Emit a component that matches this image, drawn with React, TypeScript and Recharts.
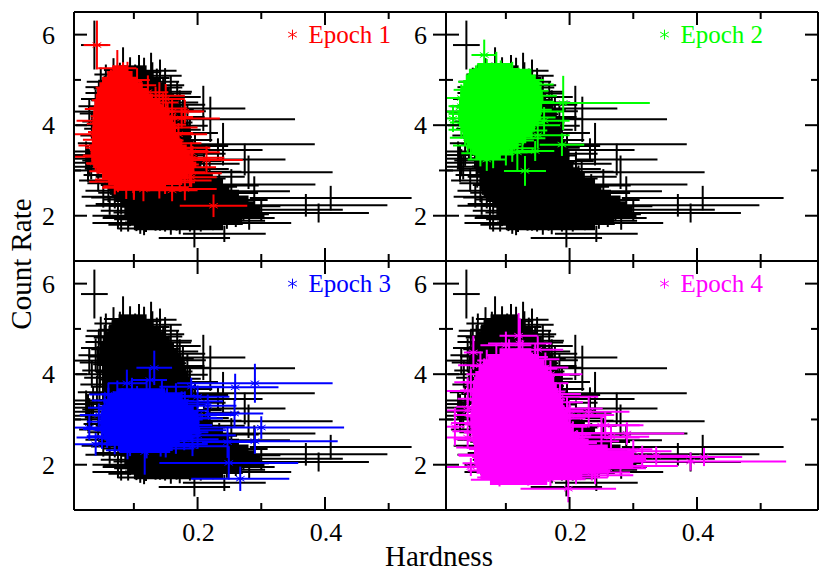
import { ScatterChart, Scatter, XAxis, YAxis, ErrorBar, ReferenceDot } from "recharts";

// each point: [hardness, count rate, hardness error, rate error]
type Row = number[];

const allEpochs: Row[] = [
  [.038,5.77,.021,.54],[.209,4.37,.066,.5],[.22,4.13,.133,.5],[.24,3.58,.144,.47],[.232,3.45,.07,.26],[.274,3.24,.064,.35],
  [.28,2.96,.132,.37],[.289,2.54,.056,.33],[.253,2.69,.132,.34],[.409,2.39,.127,.27],[.39,2.06,.079,.21],[.281,1.84,.066,.15],
  [.242,1.6,.065,.18],[.195,1.51,.056,.21],[.37,2.23,.128,.25],[.3,2.13,.128,.25],[.26,1.95,.061,.2],
  [.083,5.22,.03,.5],[.108,5.17,.035,.38],[.127,5.2,.04,.4],[.068,5.12,.03,.36],[.094,5.08,.033,.42],[.116,5.04,.04,.45],[.141,5.09,.034,.36],
  [.056,4.96,.03,.38],[.078,4.98,.034,.4],[.102,4.93,.037,.41],[.129,4.96,.042,.43],[.149,4.88,.03,.38],[.048,4.84,.024,.43],[.067,4.81,.03,.36],
  [.089,4.85,.034,.4],[.113,4.8,.04,.38],[.136,4.83,.04,.42],[.158,4.74,.033,.36],[.054,4.71,.03,.38],[.076,4.68,.033,.41],[.099,4.72,.036,.38],
  [.122,4.66,.04,.4],[.146,4.7,.044,.37],[.168,4.62,.037,.35],[.045,4.58,.028,.4],[.063,4.55,.03,.37],[.086,4.59,.034,.4],[.108,4.53,.038,.38],
  [.131,4.56,.042,.36],[.155,4.5,.046,.35],[.172,4.45,.04,.32],[.04,4.42,.027,.37],[.058,4.39,.03,.4],[.08,4.44,.034,.37],[.103,4.37,.038,.36],
  [.125,4.41,.04,.38],[.148,4.34,.046,.36],[.177,4.31,.036,.3],[.043,4.26,.028,.36],[.066,4.22,.03,.38],[.091,4.27,.035,.37],[.114,4.2,.04,.35],
  [.138,4.24,.044,.36],[.163,4.18,.048,.34],[.184,4.14,.035,.32],[.047,4.08,.028,.37],[.072,4.05,.032,.36],[.097,4.1,.036,.34],[.121,4.02,.04,.37],
  [.146,4.06,.046,.33],[.171,3.99,.045,.34],[.052,3.92,.03,.36],[.079,3.88,.033,.37],[.105,3.93,.037,.35],[.131,3.85,.042,.34],[.157,3.9,.048,.32],
  [.188,3.83,.044,.3],[.046,3.77,.03,.34],[.069,3.72,.032,.33],[.094,3.76,.036,.35],[.119,3.69,.04,.32],[.145,3.74,.046,.31],[.173,3.67,.05,.3],
  [.042,3.6,.03,.36],[.064,3.56,.034,.32],[.089,3.59,.036,.33],[.113,3.53,.04,.31],[.139,3.57,.046,.3],[.166,3.5,.05,.31],[.196,3.54,.052,.28],
  [.036,3.42,.032,.32],[.059,3.38,.035,.3],[.084,3.43,.038,.31],[.108,3.36,.042,.32],[.134,3.4,.047,.29],[.161,3.33,.05,.3],[.19,3.37,.054,.27],
  [.028,3.26,.028,.3],[.054,3.22,.035,.31],[.081,3.27,.04,.3],[.105,3.19,.043,.29],[.129,3.24,.048,.3],[.156,3.17,.052,.28],[.183,3.21,.055,.29],[.21,3.15,.056,.27],
  [.033,3.08,.03,.28],[.06,3.04,.037,.3],[.087,3.09,.04,.28],[.112,3.02,.046,.29],[.138,3.06,.05,.27],[.164,2.99,.053,.28],[.192,3.03,.057,.26],[.219,2.97,.05,.26],
  [.055,2.9,.034,.28],[.08,2.86,.04,.27],[.107,2.91,.045,.28],[.133,2.84,.05,.27],[.159,2.88,.054,.26],[.186,2.82,.058,.27],[.214,2.86,.06,.25],
  [.064,2.72,.037,.26],[.09,2.68,.042,.27],[.118,2.73,.046,.25],[.146,2.66,.05,.26],[.173,2.7,.056,.25],[.202,2.64,.06,.24],[.234,2.67,.062,.25],
  [.06,2.55,.036,.25],[.086,2.51,.042,.24],[.113,2.56,.048,.25],[.141,2.49,.052,.24],[.169,2.53,.058,.23],[.197,2.47,.062,.25],[.23,2.5,.065,.23],
  [.07,2.4,.037,.24],[.097,2.36,.044,.22],[.125,2.41,.05,.24],[.154,2.34,.056,.23],[.183,2.38,.06,.22],[.213,2.32,.066,.23],[.25,2.35,.06,.22],
  [.08,2.26,.04,.22],[.108,2.22,.046,.23],[.137,2.27,.052,.21],[.166,2.2,.058,.22],[.196,2.24,.064,.21],[.228,2.18,.07,.2],[.265,2.21,.065,.2],
  [.088,2.11,.04,.21],[.116,2.07,.048,.22],[.146,2.12,.054,.2],[.176,2.05,.06,.21],[.207,2.09,.066,.2],[.24,2.03,.072,.19],[.272,2.06,.056,.18],
  [.094,1.97,.042,.2],[.122,1.93,.05,.19],[.152,1.98,.056,.21],[.182,1.91,.062,.19],[.213,1.95,.068,.18],[.246,1.89,.06,.18],
  [.08,1.84,.045,.19],[.11,1.8,.05,.2],[.141,1.85,.055,.18],[.172,1.78,.062,.19],[.205,1.82,.066,.17],[.116,1.72,.04,.15],[.158,1.74,.05,.16],
  [.075,2.0,.04,.3],[.091,1.95,.04,.3],[.104,1.98,.045,.32],[.119,1.92,.05,.28],[.134,2.0,.05,.33],[.149,1.93,.05,.28],[.167,1.97,.055,.3],[.188,1.95,.06,.3],[.224,1.98,.07,.3],
  [.025,3.34,.025,.3],[.03,3.17,.03,.3],[.028,3.0,.028,.25],[.044,2.78,.03,.25],[.052,2.42,.034,.24],[.062,2.22,.038,.2],[.034,4.0,.025,.3],[.03,4.3,.025,.3],
];

const epoch1: Row[] = [
  [.042,5.77,.021,.54],[.074,5.26,.03,.4],[.18,4.3,.03,.26],[.225,2.22,.053,.25],[.18,2.59,.05,.25],[.214,3.23,.057,.3],[.188,2.94,.05,.3],
  [.175,4.15,.06,.22],[.19,3.4,.045,.22],[.05,3.55,.037,.3],[.04,3.3,.035,.3],[.05,4.36,.027,.35],[.055,3.16,.03,.3],[.1,2.65,.048,.3],[.19,2.85,.04,.22],
  [.083,4.97,.03,.42],[.064,4.83,.024,.4],[.105,4.88,.03,.38],[.078,4.7,.03,.41],[.097,4.66,.034,.4],[.122,4.73,.032,.37],[.062,4.55,.028,.38],[.084,4.52,.03,.39],
  [.109,4.57,.034,.38],[.134,4.5,.036,.35],[.15,4.58,.03,.33],[.056,4.38,.026,.37],[.075,4.35,.03,.38],[.098,4.41,.033,.36],[.121,4.33,.036,.37],[.146,4.37,.038,.33],
  [.06,4.2,.028,.36],[.083,4.16,.032,.37],[.106,4.22,.035,.35],[.13,4.14,.038,.34],[.153,4.18,.04,.32],[.052,4.03,.026,.35],[.072,4.0,.03,.37],[.095,4.05,.034,.34],
  [.118,3.97,.037,.35],[.142,4.01,.04,.33],[.164,3.95,.036,.3],[.056,3.85,.028,.34],[.08,3.82,.032,.35],[.104,3.87,.035,.33],[.127,3.79,.038,.34],[.151,3.83,.042,.31],
  [.048,3.68,.028,.34],[.068,3.65,.03,.33],[.091,3.7,.034,.34],[.114,3.62,.037,.32],[.138,3.66,.04,.33],[.162,3.6,.044,.3],[.054,3.5,.03,.33],[.077,3.47,.033,.32],
  [.1,3.52,.036,.33],[.124,3.44,.04,.31],[.148,3.48,.042,.3],[.172,3.43,.045,.28],[.05,3.33,.03,.31],[.072,3.3,.034,.32],[.095,3.35,.037,.3],[.119,3.27,.04,.31],
  [.143,3.31,.044,.29],[.167,3.25,.048,.29],[.192,3.28,.05,.26],[.058,3.15,.032,.3],[.082,3.12,.036,.31],[.106,3.17,.04,.29],[.13,3.09,.043,.3],[.155,3.13,.047,.28],
  [.179,3.07,.05,.27],[.064,2.98,.034,.29],[.089,2.94,.038,.28],[.113,2.99,.04,.3],[.138,2.91,.045,.28],[.162,2.96,.05,.26],[.075,2.8,.036,.28],[.099,2.77,.04,.27],
  [.124,2.82,.043,.28],[.149,2.74,.047,.26],[.172,2.78,.05,.25],[.088,2.62,.038,.25],[.115,2.58,.042,.26],[.14,2.63,.046,.25],[.16,2.56,.04,.24],[.1,2.7,.04,.3],
  [.07,4.12,.03,.4],[.11,4.45,.034,.36],[.09,3.58,.034,.33],[.13,3.72,.04,.32],[.085,3.22,.036,.3],[.125,3.38,.04,.3],[.07,3.9,.03,.34],[.115,4.08,.036,.34],
  [.04,4.1,.03,.3],[.038,3.8,.033,.3],[.14,4.65,.04,.3],[.16,4.3,.045,.3],[.17,3.8,.045,.25],[.17,3.5,.05,.25],[.09,5.0,.035,.4],[.07,2.75,.04,.28],
];

const epoch2: Row[] = [
  [.017,4.15,.011,.3],[.066,5.55,.02,.34],[.19,4.49,.136,.6],[.188,3.57,.035,.25],[.13,2.99,.033,.33],[.146,3.43,.03,.22],[.118,3.4,.03,.43],
  [.11,5,.05,.4],[.085,5.24,.035,.38],[.07,3.24,.03,.25],[.15,3.78,.05,.3],[.16,4.1,.04,.3],
  [.07,5.12,.03,.34],[.092,5.05,.034,.38],[.053,4.96,.028,.36],[.074,4.92,.03,.38],[.098,4.88,.034,.37],[.12,4.94,.036,.33],[.042,4.78,.024,.36],[.062,4.74,.028,.38],
  [.085,4.79,.032,.38],[.107,4.71,.035,.36],[.129,4.76,.038,.34],[.036,4.6,.022,.35],[.055,4.56,.028,.37],[.076,4.61,.03,.37],[.098,4.53,.034,.36],[.12,4.58,.036,.35],
  [.14,4.52,.036,.32],[.03,4.42,.02,.34],[.048,4.39,.026,.36],[.069,4.44,.03,.36],[.09,4.36,.033,.35],[.112,4.41,.036,.35],[.134,4.34,.038,.33],[.032,4.25,.022,.34],
  [.052,4.21,.027,.35],[.073,4.26,.03,.36],[.095,4.18,.034,.34],[.117,4.23,.036,.34],[.138,4.17,.04,.32],[.036,4.06,.024,.33],[.056,4.03,.028,.34],[.078,4.08,.032,.35],
  [.1,4.0,.034,.33],[.122,4.05,.037,.33],[.036,3.9,.026,.34],[.06,3.86,.03,.33],[.082,3.91,.032,.34],[.105,3.83,.035,.32],[.127,3.88,.038,.31],[.04,3.72,.028,.32],
  [.064,3.69,.03,.33],[.086,3.74,.033,.33],[.108,3.66,.036,.3],[.126,3.71,.036,.3],[.045,3.55,.028,.31],[.068,3.52,.03,.32],[.09,3.57,.034,.31],[.11,3.49,.034,.3],
  [.06,3.38,.03,.29],[.08,3.35,.032,.3],[.1,3.4,.034,.29],[.078,3.62,.034,.34],[.058,4.14,.03,.38],[.088,4.48,.034,.37],[.107,4.28,.036,.35],[.068,4.82,.03,.38],
  [.135,4.9,.04,.3],[.145,4.65,.035,.3],[.15,4.3,.04,.3],[.03,4.6,.03,.3],[.028,4.3,.028,.3],[.03,4.0,.026,.3],[.14,4.0,.045,.28],
];

const epoch3: Row[] = [
  [.132,4.14,.028,.38],[.29,3.8,.122,.43],[.259,3.71,.068,.3],[.258,3.13,.045,.3],[.249,2.04,.109,.37],[.267,1.69,.077,.27],[.247,2.5,.04,.35],[.089,3.8,.03,.3],
  [.125,3.87,.027,.28],[.117,2.28,.04,.5],[.3,2.82,.13,.25],[.29,2.52,.13,.28],[.04,2.45,.035,.25],[.2,3.5,.05,.25],[.19,3.02,.05,.27],[.03,2.82,.024,.28],
  [.19,3.72,.05,.2],[.216,3.3,.045,.25],[.2,2.65,.06,.3],
  [.074,3.56,.026,.3],[.097,3.6,.03,.32],[.12,3.55,.034,.33],[.144,3.58,.036,.3],[.166,3.52,.04,.28],[.06,3.42,.026,.28],[.082,3.39,.03,.3],[.105,3.44,.034,.3],
  [.128,3.37,.037,.3],[.152,3.41,.042,.28],[.175,3.35,.045,.27],[.054,3.26,.026,.29],[.076,3.23,.03,.29],[.099,3.28,.034,.3],[.122,3.21,.037,.28],[.146,3.25,.042,.29],
  [.17,3.19,.046,.27],[.062,3.1,.028,.27],[.085,3.07,.032,.29],[.108,3.12,.036,.28],[.132,3.05,.04,.28],[.156,3.09,.045,.27],[.18,3.04,.05,.26],[.056,2.95,.03,.27],
  [.078,2.92,.034,.28],[.101,2.97,.036,.27],[.125,2.9,.04,.27],[.149,2.94,.045,.26],[.173,2.88,.05,.26],[.05,2.79,.03,.27],[.072,2.76,.034,.26],[.095,2.81,.037,.27],
  [.119,2.74,.04,.26],[.143,2.78,.046,.25],[.167,2.72,.05,.25],[.19,2.76,.055,.24],[.058,2.63,.032,.26],[.082,2.6,.035,.25],[.106,2.65,.04,.26],[.13,2.58,.044,.25],
  [.155,2.62,.048,.25],[.179,2.56,.054,.24],[.07,2.47,.034,.24],[.094,2.44,.038,.25],[.118,2.49,.042,.24],[.142,2.42,.046,.24],[.166,2.46,.05,.22],[.192,2.41,.056,.22],
  [.09,2.32,.034,.2],[.12,2.34,.04,.2],[.15,2.36,.045,.2],[.135,2.7,.045,.27],[.085,3.3,.034,.3],[.16,3.0,.048,.26],[.11,2.88,.038,.27],[.14,3.3,.04,.29],
  [.06,3.55,.03,.25],[.18,3.4,.06,.22],[.2,3.1,.06,.25],[.045,3.1,.03,.25],[.05,2.6,.04,.25],
];

const epoch4: Row[] = [
  [.411,2.17,.06,.2],[.02,2.84,.015,.42],[.049,4.48,.015,.37],[.198,1.47,.075,.3],[.39,2.07,.15,.2],[.336,2.2,.05,.2],[.314,2.17,.05,.25],[.256,2.87,.06,.3],
  [.23,3.17,.064,.35],[.122,4.68,.05,.55],[.1,4.64,.04,.3],[.15,4.54,.04,.3],[.04,3.63,.034,.3],[.045,3.82,.026,.3],[.06,2.22,.035,.2],[.09,1.67,.045,.15],
  [.29,2.69,.09,.25],[.25,2.87,.06,.25],[.28,1.97,.09,.2],[.26,1.92,.06,.2],[.24,1.77,.06,.2],[.3,2.3,.06,.25],[.25,2.34,.08,.27],[.22,2.6,.09,.3],[.265,2.62,.06,.25],
  [.105,4.42,.035,.35],[.126,4.38,.04,.38],[.085,4.3,.03,.38],[.146,4.33,.038,.35],[.07,4.18,.026,.36],[.094,4.14,.032,.4],[.118,4.2,.036,.37],[.141,4.12,.04,.36],
  [.162,4.15,.036,.33],[.066,4.0,.028,.35],[.088,3.96,.032,.38],[.111,4.02,.036,.36],[.135,3.94,.04,.36],[.158,3.98,.042,.33],[.06,3.82,.03,.34],[.082,3.78,.032,.36],
  [.106,3.84,.036,.36],[.13,3.76,.04,.35],[.154,3.8,.044,.33],[.056,3.64,.028,.34],[.078,3.6,.032,.35],[.101,3.66,.036,.34],[.125,3.58,.04,.34],[.149,3.62,.044,.33],
  [.172,3.56,.046,.3],[.054,3.46,.03,.32],[.076,3.43,.033,.34],[.099,3.48,.037,.33],[.123,3.4,.04,.33],[.147,3.44,.046,.31],[.171,3.38,.05,.29],[.052,3.28,.03,.33],
  [.074,3.25,.034,.32],[.097,3.3,.038,.32],[.121,3.22,.042,.32],[.146,3.26,.047,.3],[.17,3.2,.052,.29],[.196,3.24,.056,.26],[.05,3.1,.032,.31],[.073,3.07,.036,.31],
  [.096,3.12,.04,.3],[.12,3.04,.044,.31],[.145,3.08,.05,.29],[.17,3.02,.055,.28],[.197,3.06,.06,.27],[.048,2.92,.034,.3],[.072,2.89,.037,.3],[.096,2.94,.042,.29],
  [.121,2.86,.046,.3],[.146,2.9,.052,.28],[.172,2.84,.056,.28],[.2,2.88,.062,.27],[.05,2.74,.034,.29],[.074,2.71,.04,.28],[.099,2.76,.044,.28],[.124,2.68,.048,.29],
  [.15,2.72,.054,.27],[.176,2.66,.058,.27],[.205,2.7,.065,.26],[.054,2.56,.036,.27],[.079,2.53,.04,.27],[.104,2.58,.046,.26],[.13,2.5,.05,.27],[.156,2.54,.056,.25],
  [.183,2.48,.06,.25],[.212,2.52,.066,.24],[.06,2.38,.038,.25],[.086,2.35,.044,.25],[.112,2.4,.048,.24],[.139,2.32,.052,.25],[.166,2.36,.058,.23],[.194,2.3,.064,.24],
  [.224,2.34,.07,.22],[.066,2.2,.04,.23],[.093,2.17,.046,.23],[.12,2.22,.05,.22],[.148,2.14,.056,.23],[.176,2.18,.062,.22],[.206,2.12,.068,.22],[.238,2.16,.074,.2],
  [.072,2.03,.04,.22],[.1,2.0,.048,.21],[.128,2.05,.054,.21],[.157,1.97,.06,.21],[.186,2.01,.066,.2],[.218,1.95,.072,.19],[.08,1.87,.04,.2],[.108,1.84,.048,.2],
  [.137,1.89,.056,.19],[.167,1.82,.062,.2],[.198,1.86,.066,.18],[.235,1.83,.06,.18],[.1,1.72,.045,.16],[.135,1.7,.05,.16],[.17,1.68,.055,.15],[.21,1.72,.05,.15],
  [.06,4.2,.035,.3],[.17,4.0,.05,.3],[.185,3.5,.06,.3],[.2,3.1,.07,.3],[.04,3.2,.035,.3],[.04,2.6,.035,.25],[.045,1.95,.04,.2],[.12,4.85,.03,.5],
];

// the crowded middle of each cloud, where single points can't be told apart: [centre, rate, half width]
const allEpochsCore: Row[] = [
  [.098,5.25,.022],[.098,5.125,.033],[.1,5,.04],[.102,4.875,.047],[.103,4.75,.052],[.105,4.625,.058],[.108,4.5,.062],[.11,4.375,.065],
  [.113,4.25,.067],[.116,4.125,.066],[.118,4,.068],[.119,3.875,.069],[.12,3.75,.07],[.122,3.625,.072],[.124,3.5,.074],[.125,3.375,.075],
  [.125,3.25,.075],[.128,3.125,.078],[.135,3,.08],[.142,2.875,.082],[.15,2.75,.09],[.155,2.625,.095],[.165,2.5,.1],[.175,2.375,.105],
  [.185,2.25,.105],[.192,2.125,.107],[.195,2,.11],[.18,1.875,.09],[.17,1.75,.07],
];
const epoch1Core: Row[] = [
  [.078,5.25,.012],[.078,5.125,.02],[.078,5,.028],[.08,4.875,.034],[.082,4.75,.04],[.085,4.625,.045],[.089,4.5,.051],[.092,4.375,.055],
  [.096,4.25,.06],[.098,4.125,.062],[.1,4,.065],[.1,3.875,.066],[.102,3.75,.068],[.105,3.625,.071],[.107,3.5,.076],[.11,3.375,.078],
  [.113,3.25,.08],[.117,3.125,.081],[.118,3,.077],[.118,2.875,.068],[.118,2.75,.058],[.11,2.625,.04],
];
const epoch2Core: Row[] = [
  [.082,5.3,.027],[.091,5.175,.049],[.092,5.05,.055],[.093,4.925,.06],[.093,4.8,.063],[.094,4.675,.064],[.094,4.55,.065],[.092,4.425,.065],
  [.091,4.3,.065],[.09,4.175,.065],[.089,4.05,.061],[.088,3.925,.058],[.087,3.8,.055],[.084,3.675,.048],[.08,3.55,.04],[.076,3.425,.03],[.072,3.3,.02],
];
const epoch3Core: Row[] = [
  [.112,3.62,.037],[.118,3.5,.058],[.12,3.375,.065],[.122,3.25,.072],[.124,3.125,.076],[.125,3,.078],[.125,2.875,.078],[.126,2.75,.078],
  [.121,2.625,.069],[.115,2.5,.057],[.118,2.375,.043],
];
const epoch4Core: Row[] = [
  [.115,4.5,.025],[.112,4.375,.04],[.112,4.25,.048],[.112,4.125,.055],[.112,4,.06],[.113,3.875,.063],[.114,3.75,.066],[.115,3.625,.068],
  [.116,3.5,.07],[.118,3.375,.072],[.119,3.25,.073],[.12,3.125,.075],[.12,3,.076],[.122,2.875,.078],[.126,2.75,.08],[.132,2.625,.084],
  [.14,2.5,.09],[.155,2.375,.105],[.175,2.25,.125],[.185,2.125,.135],[.176,2,.124],[.157,1.875,.103],[.14,1.75,.08],[.12,1.625,.045],
];

const xMin = 0.006;
const xMax = 0.59;
const xTicks = [0.1, 0.2, 0.3, 0.4, 0.5];
const yTicks = [2, 3, 4, 5, 6];
const xLabels = [0.2, 0.4];
const yLabels = [2, 4, 6];
const serif = "'Liberation Serif', 'Times New Roman', serif";
const frame = { stroke: "#000", strokeWidth: 2 };

// bars stop at the left axis, the plotting package cut them there too
const toPoints = (rows: Row[]) =>
  rows.map(([x, y, xe, ye = 0]) => ({ x, y, xe: [Math.min(xe, x - xMin), xe], ye }));

// six armed star like the one the plotting package draws
function Star({ cx, cy, color, r = 5 }: any) {
  const dx = r * 0.866;
  const dy = r * 0.5;
  return (
    <g stroke={color} strokeWidth={1} fill="none">
      <line x1={cx} y1={cy - r} x2={cx} y2={cy + r} />
      <line x1={cx - dx} y1={cy - dy} x2={cx + dx} y2={cy + dy} />
      <line x1={cx - dx} y1={cy + dy} x2={cx + dx} y2={cy - dy} />
    </g>
  );
}

const xTick = (dir: number, labelled: boolean) => (p: any) => {
  const v = Number(p.payload.value);
  const major = xLabels.some((l) => Math.abs(l - v) < 1e-6);
  return (
    <g>
      <line x1={p.x} x2={p.x} y1={p.y} y2={p.y + dir * (major ? 13 : 7)} stroke="#000" strokeWidth={2} />
      {labelled && major && (
        <text x={p.x + 1} y={p.y + 31} textAnchor="middle" fontSize={26} fontFamily={serif} fill="#000">
          {v.toFixed(1)}
        </text>
      )}
    </g>
  );
};

const yTick = (dir: number, labelled: boolean) => (p: any) => {
  const v = Number(p.payload.value);
  const major = yLabels.includes(v);
  return (
    <g>
      <line x1={p.x} x2={p.x + dir * (major ? 13 : 7)} y1={p.y} y2={p.y} stroke="#000" strokeWidth={2} />
      {labelled && major && (
        <text x={p.x - 19} y={p.y + 9} textAnchor="end" fontSize={26} fontFamily={serif} fill="#000">
          {v}
        </text>
      )}
    </g>
  );
};

function PanelAxes({ showX, bare }: any) {
  const common = { type: "number" as const, allowDataOverflow: true, interval: 0, tickSize: 0, tickMargin: 0, tickLine: false };
  const line = bare ? false : frame;
  return (
    <>
      <XAxis {...common} xAxisId="b" dataKey="x" orientation="bottom" domain={[xMin, xMax]} ticks={xTicks} height={1}
        axisLine={line} tick={bare ? false : xTick(-1, showX)} />
      <XAxis {...common} xAxisId="t" dataKey="x" orientation="top" domain={[xMin, xMax]} ticks={xTicks} height={1}
        axisLine={line} tick={bare ? false : xTick(1, false)} />
      <YAxis {...common} yAxisId="l" dataKey="y" orientation="left" domain={[1, 6.5]} ticks={yTicks} width={1}
        axisLine={line} tick={bare ? false : yTick(1, true)} />
      <YAxis {...common} yAxisId="r" dataKey="y" orientation="right" domain={[1, 6.5]} ticks={yTicks} width={1}
        axisLine={line} tick={bare ? false : yTick(-1, false)} />
    </>
  );
}

// one layer of a panel: the solid middle, then the points with their error bars
function Cloud({ rows, core, color, stars }: any) {
  return (
    <>
      <Scatter data={toPoints(core)} xAxisId="b" yAxisId="l" isAnimationActive={false} shape={() => <g />}>
        <ErrorBar direction="x" dataKey="xe" width={0} stroke={color} strokeWidth={6.5} isAnimationActive={false} />
      </Scatter>
      <Scatter data={toPoints(rows)} xAxisId="b" yAxisId="l" isAnimationActive={false}
        shape={(s: any) => (stars ? <Star cx={s.cx} cy={s.cy} color={color} /> : <g />)}>
        <ErrorBar direction="x" dataKey="xe" width={0} stroke={color} strokeWidth={2} isAnimationActive={false} />
        <ErrorBar direction="y" dataKey="ye" width={0} stroke={color} strokeWidth={2} isAnimationActive={false} />
      </Scatter>
    </>
  );
}

function Panel({ rows, core, color, name, left, top, showX }: any) {
  const margin = { left: left - 1, top: top - 1, right: 830 - left - 372 - 1, bottom: 576 - top - 249 - 1 };
  return (
    <>
      <div style={{ position: "absolute", left: 0, top: 0 }}>
        <ScatterChart width={830} height={576} margin={margin}>
          <PanelAxes bare />
          <Cloud rows={allEpochs} core={allEpochsCore} color="#000000" stars={false} />
        </ScatterChart>
      </div>
      <div style={{ position: "absolute", left: 0, top: 0 }}>
        <ScatterChart width={830} height={576} margin={margin}>
          <PanelAxes showX={showX} />
          <Cloud rows={rows} core={core} color={color} stars />
          <ReferenceDot xAxisId="b" yAxisId="l" x={0.349} y={6} ifOverflow="visible"
            shape={(s: any) => (
              <g>
                <Star cx={s.cx} cy={s.cy} color={color} />
                <text x={s.cx + 16} y={s.cy + 8} fontSize={25} fontFamily={serif} fill={color}>
                  {name}
                </text>
              </g>
            )}
          />
        </ScatterChart>
      </div>
    </>
  );
}

export default function App() {
  return (
    <div style={{ position: "absolute", left: 0, top: 0, width: 830, height: 576, background: "#fff", overflow: "hidden" }}>
      <Panel rows={epoch1} core={epoch1Core} color="#ff0000" name="Epoch 1" left={74} top={12} showX={false} />
      <Panel rows={epoch2} core={epoch2Core} color="#00ff00" name="Epoch 2" left={446} top={12} showX={false} />
      <Panel rows={epoch3} core={epoch3Core} color="#0000ff" name="Epoch 3" left={74} top={261} showX={true} />
      <Panel rows={epoch4} core={epoch4Core} color="#ff00ff" name="Epoch 4" left={446} top={261} showX={true} />
      <svg width={830} height={576} style={{ position: "absolute", left: 0, top: 0, pointerEvents: "none" }}>
        <text x={439} y={566} textAnchor="middle" fontSize={29} fontFamily={serif} fill="#000">Hardness</text>
        <text transform="translate(31,264) rotate(-90)" textAnchor="middle" fontSize={29} fontFamily={serif} fill="#000">Count Rate</text>
      </svg>
    </div>
  );
}
